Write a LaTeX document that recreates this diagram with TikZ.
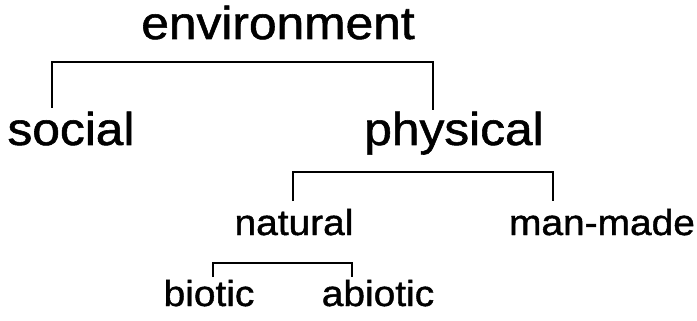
\documentclass[tikz,border=0pt]{standalone}
\usepackage{fontspec}
\setmainfont[FakeStretch=1.08,FakeBold=1.2]{Liberation Sans}
\begin{document}
\begin{tikzpicture}[x=1pt,y=-1pt,
  big/.style={anchor=base,inner sep=0pt,font=\fontsize{46}{50}\selectfont},
  small/.style={anchor=base,inner sep=0pt,font=\fontsize{36}{40}\selectfont},
  bracket/.style={line width=1.4pt}]
\useasboundingbox (0,0) rectangle (697,321);
\node[big] (env) at (278,39) {environment};
\node[big] (soc) at (71,145) {social};
\node[big] (phy) at (454,145) {physical};
\node[small] (nat) at (294,235) {natural};
\node[small] (man) at (602,235) {man-made};
\node[small] (bio) at (209,306) {biotic};
\node[small] (abi) at (378,306) {abiotic};
% bracket ends
\coordinate (bar1) at (0,62);
\coordinate (s1) at (52,108);
\coordinate (p1) at (433,110);
\coordinate (bar2) at (0,172);
\coordinate (n2) at (293,201);
\coordinate (m2) at (553,201);
\coordinate (bar3) at (0,263);
\coordinate (b3) at (213,277);
\coordinate (a3) at (352,277);
\draw[bracket] (s1) -- (s1 |- bar1) -- (p1 |- bar1) -- (p1);
\draw[bracket] (n2) -- (n2 |- bar2) -- (m2 |- bar2) -- (m2);
\draw[bracket] (b3) -- (b3 |- bar3) -- (a3 |- bar3) -- (a3);
\end{tikzpicture}
\end{document}
